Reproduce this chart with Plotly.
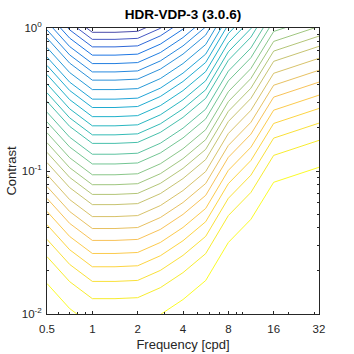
import plotly.graph_objects as go
from plotly.colors import sample_colorscale
import numpy as np

# Frequency columns (cpd)
freqs = [0.5, 0.707, 1, 1.414, 2, 2.83, 4, 5.66, 8, 11.3, 16, 32]
# log10 shift of the iso-quality contours relative to 1 cpd
log_shift = [0.294, 0.119, 0.0, 0.0, 0.007, 0.077, 0.182, 0.315, 0.581, 0.743, 1.002, 1.107]
# contrast of each contour level at 1 cpd
level_contrast = [0.933, 0.833, 0.738, 0.646, 0.564, 0.493, 0.432, 0.371, 0.318, 0.278,
                  0.240, 0.207, 0.179, 0.156, 0.131, 0.112, 0.0941, 0.0802, 0.0686, 0.0582,
                  0.0480, 0.0396, 0.0327, 0.0265, 0.0214, 0.0169, 0.0128, 0.0083]

x_ticks = [0.5, 1, 2, 4, 8, 16, 32]
x_ticktext = ["0.5", "1", "2", "4", "8", "16", "32"]
y_ticks = [0.01, 0.1, 1]
y_ticktext = ["10<sup>-2</sup>", "10<sup>-1</sup>", "10<sup>0</sup>"]

parula = [
    [0.000, "rgb(53,42,135)"], [0.0635, "rgb(50,67,186)"], [0.127, "rgb(3,99,225)"],
    [0.190, "rgb(13,117,220)"], [0.254, "rgb(20,133,212)"], [0.317, "rgb(9,152,209)"],
    [0.381, "rgb(6,167,198)"], [0.444, "rgb(21,177,180)"], [0.508, "rgb(56,185,158)"],
    [0.571, "rgb(101,190,134)"], [0.635, "rgb(146,191,115)"], [0.698, "rgb(183,189,100)"],
    [0.762, "rgb(217,186,86)"], [0.825, "rgb(248,187,68)"], [0.889, "rgb(252,206,46)"],
    [0.952, "rgb(245,228,29)"], [1.000, "rgb(249,251,14)"],
]

n = len(level_contrast)
t0 = 0.03
fig = go.Figure()
for i, c in enumerate(level_contrast):
    t = t0 + (1 - t0) * i / (n - 1)
    col = sample_colorscale(parula, [t])[0]
    ys = [c * 10 ** s for s in log_shift]
    fig.add_trace(go.Scatter(x=freqs, y=ys, mode="lines",
                             line=dict(color=col, width=0.9), showlegend=False,
                             hoverinfo="skip"))

axis_col = "#262626"
font = "Liberation Sans, Arial, sans-serif"
fig.update_layout(
    width=354, height=354,
    margin=dict(l=47, r=35, t=28, b=40, autoexpand=False),
    paper_bgcolor="white", plot_bgcolor="white",
    font=dict(family=font, size=11.5, color=axis_col),
    title=dict(text="<b>HDR-VDP-3 (3.0.6)</b>", x=0.5, xref="paper",
               y=1 - 14 / 354, yref="container", yanchor="middle",
               font=dict(size=13.5, color="black"), automargin=False),
    xaxis=dict(type="log", range=[np.log10(0.5), np.log10(32)], automargin=False,
               tickmode="array", tickvals=x_ticks, ticktext=x_ticktext,
               ticks="inside", ticklen=3, tickcolor=axis_col, ticklabelstandoff=4,
               tickfont=dict(size=11.5),
               showline=True, linecolor=axis_col, linewidth=1, mirror="ticks",
               showgrid=False, zeroline=False,
               minor=dict(tickmode="array",
                          tickvals=[0.6, 0.7, 0.8, 0.9, 3, 5, 6, 7, 9, 10, 20, 30],
                          ticks="inside", ticklen=2, tickcolor=axis_col, showgrid=False),
               title=dict(text="Frequency [cpd]", standoff=6, font=dict(size=13))),
    yaxis=dict(type="log", range=[-2, 0], automargin=False,
               tickmode="array", tickvals=y_ticks, ticktext=y_ticktext,
               ticks="inside", ticklen=3, tickcolor=axis_col, ticklabelstandoff=2,
               tickfont=dict(size=11.5),
               showline=True, linecolor=axis_col, linewidth=1, mirror="ticks",
               showgrid=False, zeroline=False,
               minor=dict(tickmode="array",
                          tickvals=[k * 0.01 for k in range(2, 10)] + [k * 0.1 for k in range(2, 10)],
                          ticks="inside", ticklen=2, tickcolor=axis_col, showgrid=False),
               title=dict(text="Contrast", standoff=2, font=dict(size=13))),
)
fig.write_html("out.html")
